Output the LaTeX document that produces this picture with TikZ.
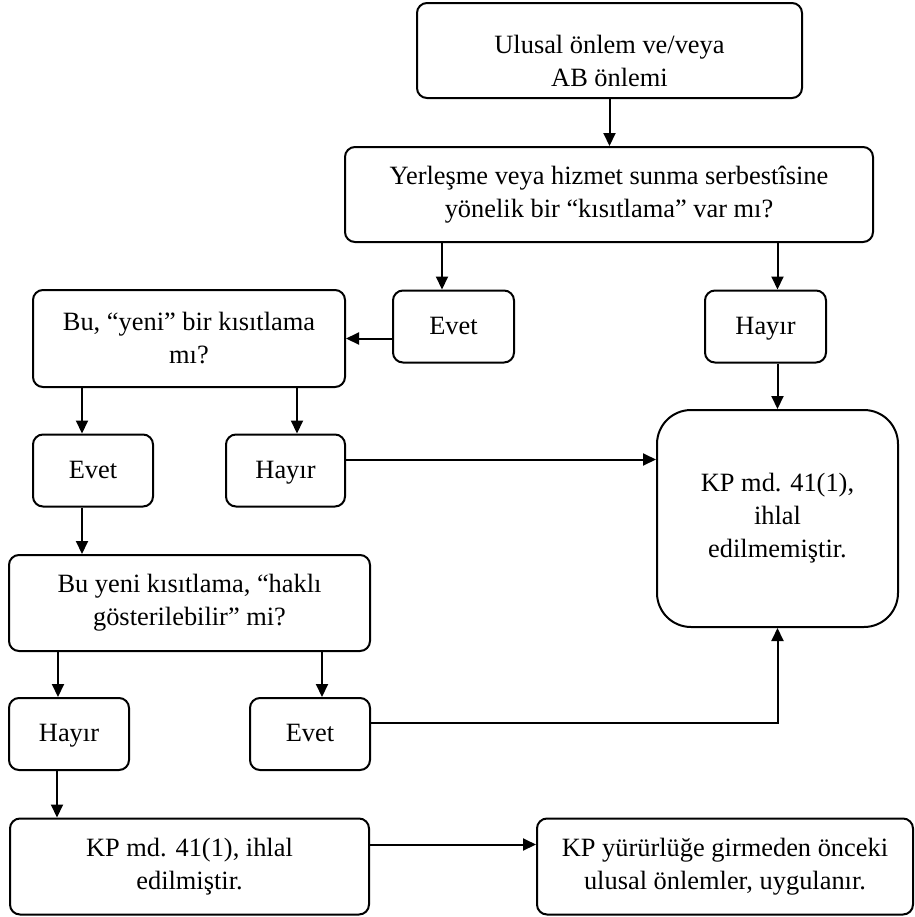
\documentclass[tikz,border=0pt]{standalone}
\usepackage{fontspec}
\setmainfont{Liberation Serif}
\usetikzlibrary{arrows.meta}
\tikzset{
    box/.style={draw, line width=1pt, rounded corners=5pt, align=center, inner sep=0pt,
        font=\fontsize{13.2}{16.5}\selectfont},
    answer/.style={box, minimum width=60pt, minimum height=36pt, text height=8.5pt, text depth=1pt},
    arr/.style={line width=1pt, -{Triangle[length=6.5pt,width=6pt]}}
}
\begin{document}
\begin{tikzpicture}[x=0.5pt, y=-0.5pt]
    \useasboundingbox (0,0) rectangle (915,917);

    \node[box, minimum width=192.5pt, minimum height=47.5pt] (measure) at (609.5,50.5) {\rule{0pt}{20pt}Ulusal önlem ve/veya\\AB önlemi};
    \node[box, minimum width=264pt, minimum height=47.5pt] (restrict) at (609,194.5) {Yerleşme veya hizmet sunma serbestîsine\\yönelik bir “kısıtlama” var mı?};

    \node[answer, minimum width=60.5pt] (yesA) at (453.5,326.5) {Evet};
    \node[answer, minimum width=60.5pt] (noA) at (765.5,326.5) {Hayır};

    \node[box, minimum width=156pt, minimum height=48.5pt] (isnew) at (189,338.5) {Bu, “yeni” bir kısıtlama\\mı?};
    \node[answer] (yesB) at (93,470.5) {Evet};
    \node[answer, minimum width=59.5pt] (noB) at (285.5,470.5) {Hayır};

    \node[box, minimum width=180.5pt, minimum height=48pt] (justified) at (189.5,603) {Bu yeni kısıtlama, “haklı\\gösterilebilir” mi?};
    \node[answer] (noC) at (69,734) {Hayır};
    \node[answer] (yesC) at (310,734) {Evet};

    \node[box, minimum width=179.5pt, minimum height=48pt] (breach) at (189.5,866.5) {KP md. 41(1), ihlal\\edilmiştir.};
    \node[box, minimum width=188pt, minimum height=48pt] (national) at (725,866.5) {KP yürürlüğe girmeden önceki\\ulusal önlemler, uygulanır.};

    \node[box, rounded corners=17pt, minimum width=120.5pt, minimum height=108.5pt] (nobreach) at (777.5,518.5) {KP md. 41(1),\\ihlal\\edilmemiştir.};

    \draw[arr] (measure.south) -- (restrict.north -| measure.south);
    \draw[arr] ([xshift=-5.75pt]yesA.north |- restrict.south) -- ([xshift=-5.75pt]yesA.north);
    \draw[arr] (restrict.south -| nobreach.north) -- (noA.north -| nobreach.north);
    \draw[arr] (noA.south -| nobreach.north) -- (nobreach.north);
    \draw[arr] (yesA.west |- isnew.east) -- (isnew.east);

    \draw[arr] ([xshift=-5.5pt]yesB.north |- isnew.south) -- ([xshift=-5.5pt]yesB.north);
    \draw[arr] ([xshift=5.75pt]noB.north |- isnew.south) -- ([xshift=5.75pt]noB.north);
    \draw[arr] ([yshift=5.5pt]noB.east) -- ([yshift=5.5pt]noB.east -| nobreach.west);

    \draw[arr] ([xshift=-5.5pt]yesB.south) -- ([xshift=-5.5pt]yesB.south |- justified.north);
    \draw[arr] ([xshift=-5.5pt]noC.north |- justified.south) -- ([xshift=-5.5pt]noC.north);
    \draw[arr] ([xshift=6pt]yesC.north |- justified.south) -- ([xshift=6pt]yesC.north);
    \draw[arr] ([yshift=5.5pt]yesC.east) -| (nobreach.south);

    \draw[arr] ([xshift=-6pt]noC.south) -- ([xshift=-6pt]noC.south |- breach.north);
    \draw[arr] ([yshift=11pt]breach.east) -- ([yshift=11pt]breach.east -| national.west);
\end{tikzpicture}
\end{document}
